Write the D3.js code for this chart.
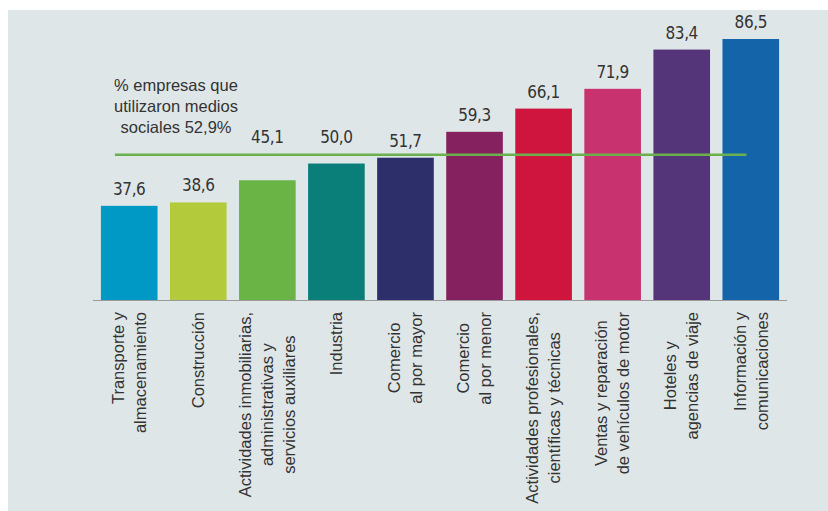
<!DOCTYPE html>
<html>
<head>
<meta charset="utf-8">
<script src="https://cdn.jsdelivr.net/npm/d3@7"></script>
<style>
  html, body { margin: 0; padding: 0; background: #fff; }
  #chart { width: 828px; height: 511px; }
</style>
</head>
<body>
<div id="chart"></div>
<script>
// ----- dati del grafico
var categories = [
    ["Transporte y", "almacenamiento"],
    ["Construcción"],
    ["Actividades inmobiliarias,", "administrativas y", "servicios auxiliares"],
    ["Industria"],
    ["Comercio", "al por mayor"],
    ["Comercio", "al por menor"],
    ["Actividades profesionales,", "científicas y técnicas"],
    ["Ventas y reparación", "de vehículos de motor"],
    ["Hoteles y", "agencias de viaje"],
    ["Información y", "comunicaciones"]
];
var values = [37.6, 38.6, 45.1, 50.0, 51.7, 59.3, 66.1, 71.9, 83.4, 86.5];
var colors = ["#0099c6", "#b3cb3b", "#69b445", "#0a7e78", "#2c2f6a", "#85215f", "#cf143d", "#c8336f", "#553579", "#1464aa"];
var average = 52.9;
var averageLabel = ["% empresas que", "utilizaron medios", "sociales 52,9%"];

// etichette allineate in alto invece che centrate
var topAligned = [0, 9];

// ----- dimensioni
var w = 828;
var h = 511;

var svg = d3.select('#chart').append('svg')
    .attr('width', w)
    .attr('height', h);

// sfondo grigio
svg.append('rect')
    .attr('x', 8).attr('y', 10)
    .attr('width', w - 8).attr('height', h - 10)
    .attr('fill', '#dfe6e8');

// ----- scale
var x = d3.scaleBand()
    .domain(d3.range(values.length))
    .range([94, 786])
    .paddingInner(0.18)
    .paddingOuter(0.1);

var y = d3.scaleLinear()
    .domain([10, 86.5])
    .range([300, 39]);

var fmt = function (v) { return d3.format('.1f')(v).replace('.', ','); };

// ----- barre
svg.append('g').selectAll('rect')
    .data(values)
    .enter().append('rect')
    .attr('x', function (d, i) { return x(i); })
    .attr('y', function (d) { return y(d); })
    .attr('width', x.bandwidth())
    .attr('height', function (d) { return y(10) - y(d); })
    .attr('fill', function (d, i) { return colors[i]; });

// ----- etichette valori (spostate sopra la linea media se ci si sovrappongono)
function labelY(d) {
    var ly = y(d) - 11;
    var diff = y(d) - y(average);
    if (diff > 0 && diff < 35 && ly > y(average) - 6) {
        ly = y(average) - 11;
    }
    return ly;
}

svg.append('g').selectAll('text')
    .data(values)
    .enter().append('text')
    .attr('x', function (d, i) { return x(i) + x.bandwidth() / 2; })
    .attr('y', labelY)
    .attr('text-anchor', 'middle')
    .attr('font-family', '"Liberation Sans Narrow", "DejaVu Sans Condensed", sans-serif')
    .attr('font-size', 17)
    .attr('letter-spacing', -0.4)
    .attr('fill', '#333')
    .text(fmt);

// ----- asse x
svg.append('line')
    .attr('x1', 93).attr('x2', 787)
    .attr('y1', y(10) + 0.5).attr('y2', y(10) + 0.5)
    .attr('stroke', '#9a9a9a')
    .attr('stroke-width', 1);

// ----- linea media
svg.append('line')
    .attr('x1', x(0) + 14)
    .attr('x2', x(values.length - 1) + 24)
    .attr('y1', y(average) + 1).attr('y2', y(average) + 1)
    .attr('stroke', '#6ab04c')
    .attr('stroke-width', 2.5);

svg.append('text')
    .attr('font-family', '"Liberation Sans", Arial, sans-serif')
    .attr('font-size', 16.5)
    .attr('fill', '#333')
    .attr('text-anchor', 'middle')
    .selectAll('tspan')
    .data(averageLabel)
    .enter().append('tspan')
    .attr('x', 176)
    .attr('y', function (d, i) { return y(average) - 63 + i * 21.2; })
    .text(function (d) { return d; });

// ----- etichette categorie (ruotate)
var lineGap = 22;
var labelTop = y(10) + 12;

categories.forEach(function (lines, i) {
    var cx = x(i) + x.bandwidth() / 2;
    var g = svg.append('g');
    var alignTop = topAligned.indexOf(i) >= 0;
    var texts = lines.map(function (t, j) {
        var lx = cx + (j - (lines.length - 1) / 2) * lineGap;
        return g.append('text')
            .attr('font-family', '"Liberation Sans", Arial, sans-serif')
            .attr('font-size', 16.5)
            .attr('fill', '#333')
            .attr('text-anchor', alignTop ? 'end' : 'middle')
            .attr('dy', '0.35em')
            .datum(lx)
            .text(t);
    });
    var maxLen = d3.max(texts, function (t) { return t.node().getComputedTextLength(); });
    texts.forEach(function (t) {
        var lx = t.datum();
        var ly = alignTop ? labelTop : labelTop + maxLen / 2;
        t.attr('transform', 'translate(' + lx + ',' + ly + ') rotate(-90)');
    });
});
</script>
</body>
</html>
